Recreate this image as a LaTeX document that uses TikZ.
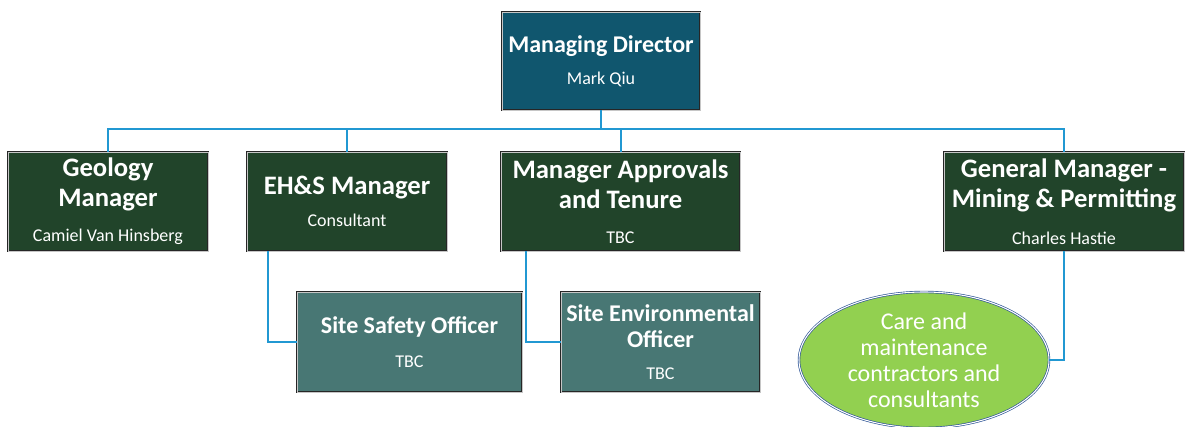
\documentclass[tikz,border=0pt]{standalone}
\usepackage{fontspec}
\setmainfont{Carlito}
\usepackage{tikz}
\usetikzlibrary{shapes.geometric}

\definecolor{mdblue}{RGB}{16,86,110}
\definecolor{mgrgreen}{RGB}{33,68,42}
\definecolor{sitegrey}{RGB}{72,119,116}
\definecolor{carelime}{RGB}{146,208,80}
\definecolor{careedge}{RGB}{46,84,150}
\definecolor{linkblue}{RGB}{33,152,210}

\newcommand{\who}[1]{{\fontsize{13.5}{16}\selectfont\mdseries #1}}

\begin{document}
\begin{tikzpicture}[x=0.75pt, y=-0.75pt,
		post/.style={draw=black!85, double=gray!45, double distance=0.7pt, line width=0.6pt,
			text=white, align=center, inner sep=1pt, font=\bfseries},
		link/.style={draw=linkblue, line width=1.5pt}]
		\useasboundingbox (0,0) rectangle (1187,427);

		% top of the chart
		\node [post, fill=mdblue, minimum width=148.5pt, minimum height=73.5pt,
			font=\fontsize{18}{22}\selectfont\bfseries] (md) at (601,61)
			{Managing Director\\[2pt]\who{Mark Qiu}};

		% managers
		\node [post, fill=mgrgreen, minimum width=150pt, minimum height=74.25pt,
			font=\fontsize{20}{22.5}\selectfont\bfseries] (geo) at (108,201.5)
			{Geology\\Manager\\[4pt]\who{Camiel Van Hinsberg}};
		\node [post, fill=mgrgreen, minimum width=150pt, minimum height=74.25pt,
			font=\fontsize{20}{22.5}\selectfont\bfseries] (ehs) at (347,201.5)
			{EH\&S Manager\\[2pt]\who{Consultant}};
		\node [post, fill=mgrgreen, minimum width=179.25pt, minimum height=74.25pt,
			font=\fontsize{20}{22.5}\selectfont\bfseries] (appr) at (620.5,201.5)
			{Manager Approvals\\and Tenure\\[4pt]\who{TBC}};
		\node [post, fill=mgrgreen, minimum width=180pt, minimum height=74.25pt,
			font=\fontsize{20}{22.5}\selectfont\bfseries] (gm) at (1064,201.5)
			{General Manager -\\Mining \& Permitting\\[5pt]\who{Charles Hastie}};

		% site staff
		\node [post, fill=sitegrey, minimum width=168.75pt, minimum height=75pt,
			font=\fontsize{18}{20}\selectfont\bfseries] (safety) at (409.5,342)
			{Site Safety Officer\\[5pt]\who{TBC}};
		\node [post, fill=sitegrey, minimum width=149.25pt, minimum height=75pt,
			font=\fontsize{18}{20}\selectfont\bfseries] (env) at (660.5,342)
			{Site Environmental\\Officer\\[4pt]\who{TBC}};
		\node [ellipse, draw=careedge, double=white, double distance=0.8pt, line width=0.5pt,
			fill=carelime, text=white, align=center, inner sep=0pt,
			minimum width=187.5pt, minimum height=102pt,
			font=\fontsize{18}{19.5}\selectfont] (care) at (924,360)
			{Care and\\maintenance\\contractors and\\consultants};

		% reporting lines
		\draw [link] (md.south) -- ++(0,19) -| (geo.north);
		\draw [link] (md.south) -- ++(0,19) -| (ehs.north);
		\draw [link] (md.south) -- ++(0,19) -| (appr.north);
		\draw [link] (md.south) -- ++(0,19) -| (gm.north);
		\draw [link] ([xshift=15.75pt]ehs.south west) |- (safety.west);
		\draw [link] ([xshift=18.75pt]appr.south west) |- (env.west);
		\draw [link] (gm.south) |- (care.east);
	\end{tikzpicture}
\end{document}
